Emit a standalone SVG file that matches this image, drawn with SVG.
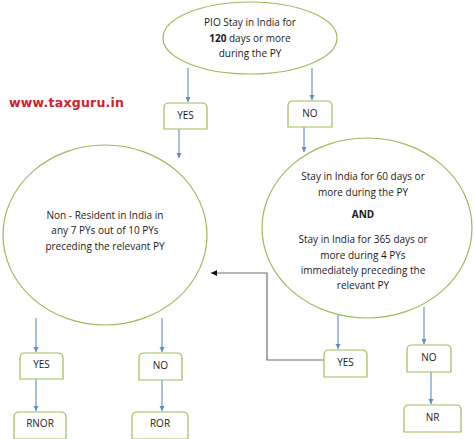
<svg xmlns="http://www.w3.org/2000/svg" width="474" height="439" viewBox="0 0 474 439">
<style>
.shape{fill:#fff;stroke:#9bbb59;stroke-width:1.2}
.t{font-family:"Open Sans","Liberation Sans",sans-serif;font-size:10px;fill:#1a1a1a;text-anchor:middle}
.b{font-weight:bold}
.blue{stroke:#6a98cc;stroke-width:1.2;fill:none}
.grey{stroke:#707070;stroke-width:1.2;fill:none}
</style>
<defs>
<marker id="ab" viewBox="0 0 10 10" refX="10" refY="5" markerWidth="4.5" markerHeight="4.5" orient="auto"><path d="M0,0 L10,5 L0,10 Z" fill="#5b8cc6"/></marker>
<marker id="ak" viewBox="0 0 10 10" refX="10" refY="5" markerWidth="5" markerHeight="5" orient="auto"><path d="M0,0 L10,5 L0,10 Z" fill="#111"/></marker>
</defs>
<rect width="474" height="439" fill="#fff"/>
<text x="9" y="107" font-family="DejaVu Sans,Verdana,sans-serif" font-weight="bold" font-size="12.5" textLength="115" fill="#d0202e">www.taxguru.in</text>
<g id="connectors">
<line class="blue" x1="188" y1="68" x2="188" y2="102" marker-end="url(#ab)"/>
<line class="blue" x1="312" y1="68" x2="312" y2="100" marker-end="url(#ab)"/>
<line class="blue" x1="179" y1="129" x2="179" y2="158" marker-end="url(#ab)"/>
<line class="blue" x1="304" y1="127" x2="304" y2="152" marker-end="url(#ab)"/>
<line class="blue" x1="36" y1="318" x2="36" y2="352" marker-end="url(#ab)"/>
<line class="blue" x1="36" y1="379" x2="36" y2="411" marker-end="url(#ab)"/>
<line class="blue" x1="162" y1="318" x2="162" y2="352" marker-end="url(#ab)"/>
<line class="blue" x1="162" y1="380" x2="162" y2="411" marker-end="url(#ab)"/>
<line class="blue" x1="338" y1="315" x2="338" y2="349" marker-end="url(#ab)"/>
<line class="blue" x1="424" y1="307" x2="424" y2="344" marker-end="url(#ab)"/>
<line class="blue" x1="431" y1="372" x2="431" y2="404" marker-end="url(#ab)"/>
<polyline class="grey" points="324,360 267,360 267,273 211,273" marker-end="url(#ak)"/>
</g>
<g id="pio">
<ellipse class="shape" cx="250" cy="38" rx="87" ry="36"/>
<text class="t" x="250" y="26">PIO Stay in India for</text>
<text class="t" x="250" y="42"><tspan class="b">120</tspan> days or more</text>
<text class="t" x="250" y="57">during the PY</text>
</g>
<g id="yes1"><path class="shape" d="M164,129 V108 Q164,103 169,103 H202 Q207,103 207,108 V129 Z"/><text class="t" x="185.5" y="119">YES</text></g>
<g id="no1"><path class="shape" d="M288,127 V106 Q288,101 293,101 H327 Q332,101 332,106 V127 Z"/><text class="t" x="310" y="117">NO</text></g>
<g id="nonres">
<ellipse class="shape" cx="105" cy="235" rx="102" ry="90"/>
<text class="t" x="105" y="219">Non - Resident in India in</text>
<text class="t" x="105" y="234">any 7 PYs out of 10 PYs</text>
<text class="t" x="105" y="250">preceding the relevant PY</text>
</g>
<g id="stay">
<ellipse class="shape" cx="367" cy="228" rx="105" ry="90"/>
<text class="t" x="363" y="180">Stay in India for 60 days or</text>
<text class="t" x="363" y="196">more during the PY</text>
<text class="t b" x="363" y="218">AND</text>
<text class="t" x="363" y="243">Stay in India for 365 days or</text>
<text class="t" x="363" y="259">more during 4 PYs</text>
<text class="t" x="363" y="274">immediately preceding the</text>
<text class="t" x="363" y="289">relevant PY</text>
</g>
<g id="yes2"><path class="shape" d="M20,379 V358 Q20,353 25,353 H58 Q63,353 63,358 V379 Z"/><text class="t" x="41.5" y="368">YES</text></g>
<g id="rnor"><path class="shape" d="M14,439 V417 Q14,412 19,412 H61 Q66,412 66,417 V439 Z"/><text class="t" x="40" y="427">RNOR</text></g>
<g id="no2"><path class="shape" d="M139,380 V358 Q139,353 144,353 H177 Q182,353 182,358 V380 Z"/><text class="t" x="160.5" y="369">NO</text></g>
<g id="ror"><path class="shape" d="M132,439 V417 Q132,412 137,412 H183 Q188,412 188,417 V439 Z"/><text class="t" x="160" y="427">ROR</text></g>
<g id="yes3"><path class="shape" d="M324,377 V355 Q324,350 329,350 H362 Q367,350 367,355 V377 Z"/><text class="t" x="345.5" y="366">YES</text></g>
<g id="no3"><path class="shape" d="M407,372 V350 Q407,345 412,345 H446 Q451,345 451,350 V372 Z"/><text class="t" x="429" y="361">NO</text></g>
<g id="nr"><path class="shape" d="M404,432 V410 Q404,405 409,405 H456 Q461,405 461,410 V432 Z"/><text class="t" x="432.5" y="421">NR</text></g>
</svg>
